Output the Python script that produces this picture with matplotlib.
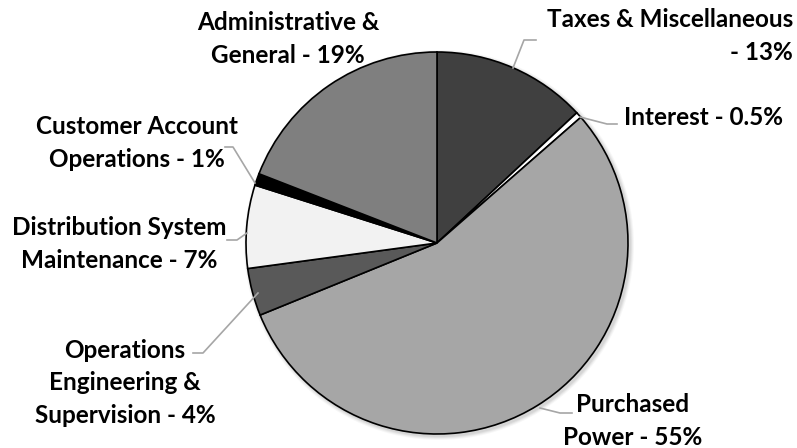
import matplotlib.pyplot as plt
from matplotlib.patches import Circle

plt.rcParams["font.family"] = ["Lato", "DejaVu Sans"]

# expense breakdown, clockwise from the top
labels = ["Taxes & Miscellaneous\n- 13%", "Interest - 0.5%", "Purchased\nPower - 55%",
          "Operations\nEngineering &\nSupervision - 4%", "Distribution System\nMaintenance - 7%",
          "Customer Account\nOperations - 1%", "Administrative &\nGeneral - 19%"]
shares = [13, 0.5, 55, 4, 7, 1, 19]
colors = ["#404040", "#ffffff", "#a6a6a6", "#595959", "#f2f2f2", "#000000", "#7f7f7f"]

W, H = 797, 448
fig = plt.figure(figsize=(W / 100, H / 100), dpi=100)
ax = fig.add_axes([0, 0, 1, 1])

cx, cy, r = 437, H - 243, 191

# soft shadow under the pie
for i, a in enumerate([0.05, 0.05, 0.04, 0.03]):
    ax.add_patch(Circle((cx + 2, cy - 2), r + 1 + i, color="black", alpha=a, lw=0, zorder=0))

ax.pie(shares, colors=colors, startangle=90, counterclock=False, center=(cx, cy), radius=r,
       wedgeprops=dict(edgecolor="black", linewidth=1.2), normalize=True, frame=True)
ax.set_xlim(0, W)
ax.set_ylim(0, H)
ax.set_aspect("equal")
ax.axis("off")

# label centres (pixel coords from top-left) and leader lines
txt = [(None, 36), (704, 117), (633, 421), (125, 383),
       (119, 244), (137, 143), (288, 39)]
leaders = [[(513, 68), (524, 40), (536, 40)],
           [(580, 117), (607, 124), (617, 124)],
           [(540, 408), (560, 413), (572, 413)],
           [(258, 293), (203, 353), (193, 353)],
           [(247, 233), (237, 240), (227, 240)],
           [(255, 183), (233, 147), (225, 147)],
           None]

style = dict(va="center", fontsize=17.5, fontweight="bold", linespacing=1.5)
for lab, (x, y), ld in zip(labels, txt, leaders):
    if x is None:
        ax.text(793, H - y, lab, ha="right", multialignment="right", **style)
    else:
        ax.text(x, H - y, lab, ha="center", multialignment="center", **style)
    if ld:
        ax.plot([p[0] for p in ld], [H - p[1] for p in ld], color="#a6a6a6", lw=1.2, zorder=5)

fig.savefig("out.png", dpi=100)
